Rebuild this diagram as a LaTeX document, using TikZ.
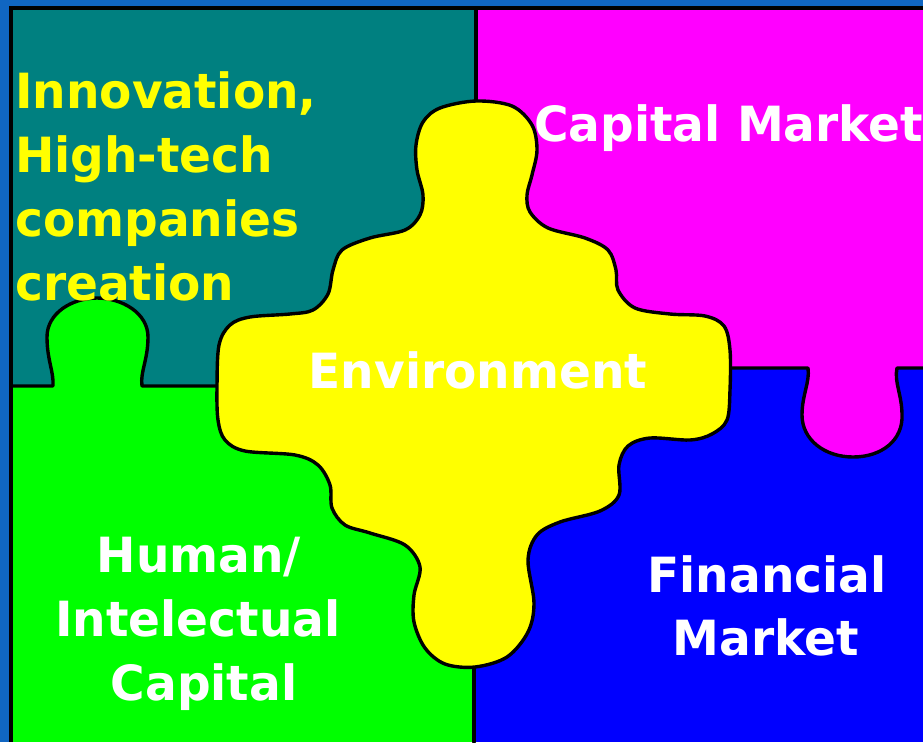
\documentclass[tikz,border=0pt]{standalone}
\usepackage{fontspec}
\setmainfont[FakeStretch=0.97]{DejaVu Sans}
\definecolor{bgblue}{RGB}{16,102,194}
\definecolor{tealc}{RGB}{0,128,128}
\definecolor{magc}{RGB}{255,0,255}
\definecolor{greenc}{RGB}{0,255,0}
\definecolor{bluec}{RGB}{0,0,255}
\definecolor{yelc}{RGB}{255,255,0}
\begin{document}
\begin{tikzpicture}[x=1pt,y=-1pt,
  outl/.style={line width=3.4pt, line join=round, line cap=round},
  lbl/.style={font=\fontsize{48.5}{56}\selectfont\bfseries, inner sep=0pt}]
\useasboundingbox (0,0) rectangle (923,742);
\fill[bgblue] (0,0) rectangle (923,742);
% quadrants
\fill[tealc] (11,8) rectangle (476,386);
\fill[magc] (476,8) rectangle (923,368);
\fill[greenc] (11,386) rectangle (474,742);
\fill[bluec] (474,368) rectangle (923,742);
% green knob
\fill[greenc] (53,387) .. controls (54,372) and (47,360) .. (47,337)
  .. controls (47,313) and (72,298) .. (97,298)
  .. controls (122,298) and (148,313) .. (148,337)
  .. controls (148,360) and (140,372) .. (142,387) -- cycle;
\draw[outl] (11,386) -- (53,386) .. controls (54,372) and (47,360) .. (47,337)
  .. controls (47,313) and (72,298) .. (97,298)
  .. controls (122,298) and (148,313) .. (148,337)
  .. controls (148,360) and (140,372) .. (142,386) -- (220,386);
% magenta knob
\fill[magc] (808,367) .. controls (810,382) and (802,395) .. (802,415)
  .. controls (802,440) and (825,457) .. (853,457)
  .. controls (882,457) and (903,440) .. (902,415)
  .. controls (902,395) and (894,382) .. (897,367) -- cycle;
\draw[outl] (728,368) -- (808,368) .. controls (810,382) and (802,395) .. (802,415)
  .. controls (802,440) and (825,457) .. (853,457)
  .. controls (882,457) and (903,440) .. (902,415)
  .. controls (902,395) and (894,382) .. (897,368) -- (923,368);
% dividing lines
\draw[outl] (476,8) -- (476,104);
\draw[outl] (474,664) -- (474,742);
% border
\draw[line width=3.2pt] (11,742) -- (11,8) -- (923,8);
% central piece
\filldraw[fill=yelc, outl] plot[smooth cycle, tension=0.55] coordinates {
 (476,101) (512,106) (532,125) (537,150) (532,175) (527,195) (530,212)
 (548,228) (585,238) (608,250) (616,270) (618,290) (635,308) (670,314)
 (705,316) (724,326) (730,350) (730,390) (727,420) (712,434) (690,440)
 (650,438) (628,446) (619,465) (619,495) (600,511) (560,522) (537,535)
 (528,560) (534,603) (528,632) (507,657) (475,667) (445,664) (425,648)
 (414,622) (414,595) (420,567) (405,545) (370,533) (345,525) (332,508)
 (330,485) (318,465) (295,455) (245,451) (225,440) (218,420) (217,387)
 (219,345) (230,325) (250,317) (290,314) (313,310) (328,294) (333,270)
 (342,250) (370,238) (405,230) (420,215) (423,195) (417,170) (416,145)
 (423,122) (440,108)};
% labels
\node[lbl, text=yelc, anchor=base west] (i1) at (15,108) {Innovation,};
\node[lbl, text=yelc, anchor=base west] (i2) at (15,172) {High-tech};
\node[lbl, text=yelc, anchor=base west] (i3) at (15,236) {companies};
\node[lbl, text=yelc, anchor=base west] (i4) at (15,300) {creation};
\node[lbl, text=white, anchor=base west] (cm) at (534,141) {Capital Market};
\node[lbl, text=white, anchor=base] (env) at (478,388) {Environment};
\node[lbl, text=white, anchor=base] (h1) at (199,572) {Human/};
\node[lbl, text=white, anchor=base] (h2) at (198,636) {Intelectual};
\node[lbl, text=white, anchor=base] (h3) at (204,700) {Capital};
\node[lbl, text=white, anchor=base] (f1) at (767,592) {Financial};
\node[lbl, text=white, anchor=base] (f2) at (766,655) {Market};
\end{tikzpicture}
\end{document}
